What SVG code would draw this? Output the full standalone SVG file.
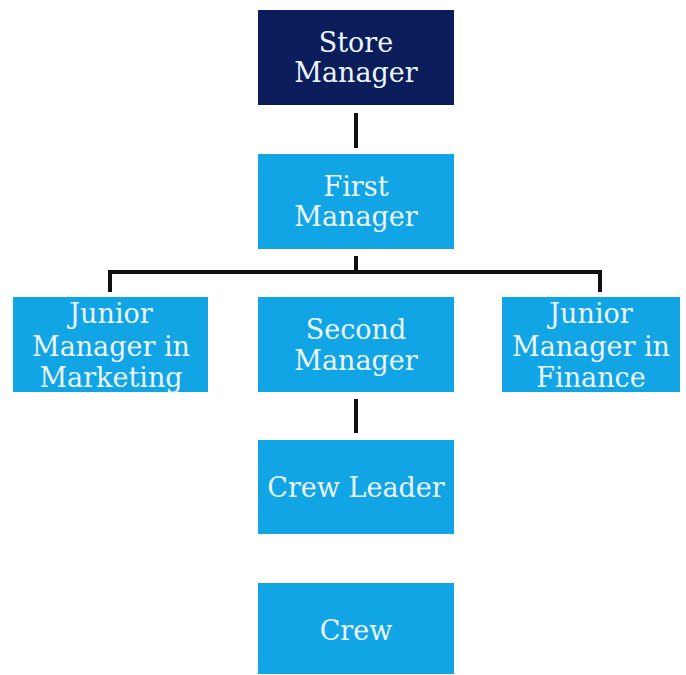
<svg xmlns="http://www.w3.org/2000/svg" width="686" height="675" viewBox="0 0 686 675">
<style>
.box{fill:#12a5e6}
.dark{fill:#0b1e5b}
text{font-family:"DejaVu Serif","Liberation Serif",serif;font-size:27px;fill:#eaf6fc;text-anchor:middle}
.conn{stroke:#111;stroke-width:4;fill:none}
</style>
<rect width="686" height="675" fill="#ffffff"/>
<g id="connectors">
<line class="conn" x1="356" y1="113" x2="356" y2="148"/>
<line class="conn" x1="356" y1="256" x2="356" y2="274"/>
<polyline class="conn" points="110,292 110,272 600,272 600,292"/>
<line class="conn" x1="356" y1="399" x2="356" y2="433"/>
</g>
<g id="store-manager">
<rect class="dark" x="258" y="10" width="196" height="95"/>
<text x="356" y="52">Store</text>
<text x="356" y="82">Manager</text>
</g>
<g id="first-manager">
<rect class="box" x="258" y="154" width="196" height="95"/>
<text x="356" y="196">First</text>
<text x="356" y="226">Manager</text>
</g>
<g id="junior-marketing">
<rect class="box" x="13" y="297" width="195" height="95"/>
<text x="111" y="323">Junior</text>
<text x="111" y="356">Manager in</text>
<text x="111" y="387">Marketing</text>
</g>
<g id="second-manager">
<rect class="box" x="258" y="297" width="196" height="95"/>
<text x="356" y="339">Second</text>
<text x="356" y="370">Manager</text>
</g>
<g id="junior-finance">
<rect class="box" x="502" y="297" width="178" height="95"/>
<text x="591" y="323">Junior</text>
<text x="591" y="356">Manager in</text>
<text x="591" y="387">Finance</text>
</g>
<g id="crew-leader">
<rect class="box" x="258" y="440" width="196" height="94"/>
<text x="356" y="497">Crew Leader</text>
</g>
<g id="crew">
<rect class="box" x="258" y="583" width="196" height="91"/>
<text x="356" y="640">Crew</text>
</g>
</svg>
